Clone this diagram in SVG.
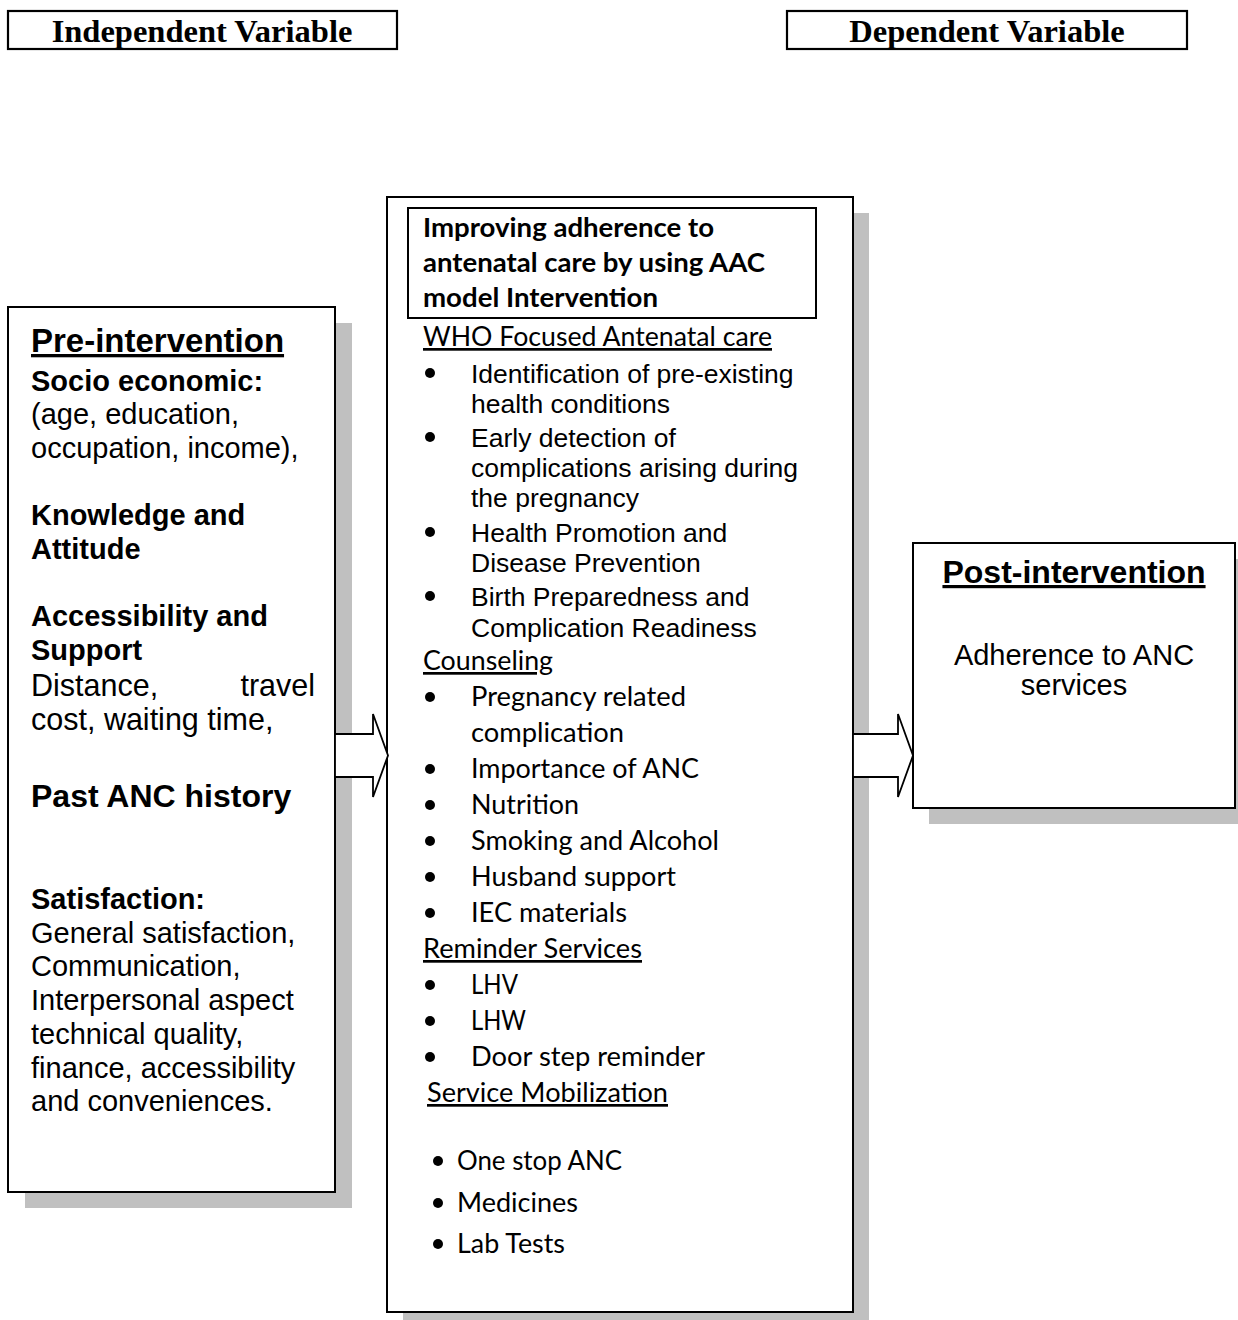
<svg xmlns="http://www.w3.org/2000/svg" width="1238" height="1320" viewBox="0 0 1238 1320">
<style>
.box{fill:#fff;stroke:#000;stroke-width:2}
.lbl{fill:#fff;stroke:#000;stroke-width:2.2}
.shadow{fill:#c0c0c0}
.arrow{fill:#fff;stroke:#000;stroke-width:1.8;stroke-linejoin:miter}
.tnr{font-family:"Liberation Serif","Times New Roman",serif;font-weight:bold;font-size:32.5px;text-anchor:middle;fill:#000}
.ar{font-family:"Liberation Sans",Arial,sans-serif;font-size:29px;fill:#000}
.arb{font-family:"Liberation Sans",Arial,sans-serif;font-size:29px;font-weight:bold;fill:#000}
.ars{font-family:"Liberation Sans",Arial,sans-serif;font-size:26.5px;fill:#000}
.cal{font-family:Lato,"Open Sans",sans-serif;font-size:27px;fill:#000}
.calb{font-family:Lato,"Open Sans",sans-serif;font-size:27px;font-weight:bold;fill:#000}
.u{text-decoration:underline}
.mid{text-anchor:middle}
</style>
<rect width="1238" height="1320" fill="#fff"/>

<g id="independent-label">
<rect class="lbl" x="8" y="11" width="389" height="38"/>
<text class="tnr" x="202" y="42">Independent Variable</text>
</g>

<g id="dependent-label">
<rect class="lbl" x="787" y="11" width="400" height="38"/>
<text class="tnr" x="987" y="42">Dependent Variable</text>
</g>

<g id="pre-intervention">
<rect class="shadow" x="25" y="323" width="327" height="885"/>
<rect class="box" x="8" y="307" width="327" height="885"/>
<text class="arb u" x="31" y="352" style="font-size:33px">Pre-intervention</text>
<text class="arb" x="31" y="391">Socio economic:</text>
<text class="ar" x="31" y="424">(age, education,</text>
<text class="ar" x="31" y="458">occupation, income),</text>
<text class="arb" x="31" y="525">Knowledge and</text>
<text class="arb" x="31" y="559">Attitude</text>
<text class="arb" x="31" y="626">Accessibility and</text>
<text class="arb" x="31" y="660">Support</text>
<text class="ar" x="31" y="696" style="font-size:30.5px">Distance,</text>
<text class="ar" x="315" y="696" style="font-size:30.5px;text-anchor:end">travel</text>
<text class="ar" x="31" y="730" style="font-size:30.5px">cost, waiting time,</text>
<text class="arb" x="31" y="807" style="font-size:32px">Past ANC history</text>
<text class="arb" x="31" y="909">Satisfaction:</text>
<text class="ar" x="31" y="943">General satisfaction,</text>
<text class="ar" x="31" y="976">Communication,</text>
<text class="ar" x="31" y="1010">Interpersonal aspect</text>
<text class="ar" x="31" y="1044">technical quality,</text>
<text class="ar" x="31" y="1078">finance, accessibility</text>
<text class="ar" x="31" y="1111">and conveniences.</text>
</g>

<g id="intervention">
<rect class="shadow" x="403" y="213" width="466" height="1115"/>
<rect class="box" x="387" y="197" width="466" height="1115"/>
<rect class="box" x="408" y="208" width="408" height="110"/>
<text class="calb" x="423" y="237" textLength="291" lengthAdjust="spacingAndGlyphs">Improving adherence to</text>
<text class="calb" x="423" y="272" textLength="342" lengthAdjust="spacingAndGlyphs">antenatal care by using AAC</text>
<text class="calb" x="423" y="307" textLength="235" lengthAdjust="spacingAndGlyphs">model Intervention</text>
<text class="cal u" x="423" y="346" textLength="349" lengthAdjust="spacingAndGlyphs">WHO Focused Antenatal care</text>

<g fill="#000">
<circle cx="430" cy="373" r="5"/>
<circle cx="430" cy="437" r="5"/>
<circle cx="430" cy="532" r="5"/>
<circle cx="430" cy="596" r="5"/>
<circle cx="430" cy="697" r="5"/>
<circle cx="430" cy="769" r="5"/>
<circle cx="430" cy="805" r="5"/>
<circle cx="430" cy="841" r="5"/>
<circle cx="430" cy="877" r="5"/>
<circle cx="430" cy="913" r="5"/>
<circle cx="430" cy="985" r="5"/>
<circle cx="430" cy="1021" r="5"/>
<circle cx="430" cy="1057" r="5"/>
<circle cx="438" cy="1161" r="5"/>
<circle cx="438" cy="1203" r="5"/>
<circle cx="438" cy="1244" r="5"/>
</g>

<text class="ars" x="471" y="383">Identification of pre-existing</text>
<text class="ars" x="471" y="413">health conditions</text>
<text class="ars" x="471" y="447">Early detection of</text>
<text class="ars" x="471" y="477">complications arising during</text>
<text class="ars" x="471" y="507">the pregnancy</text>
<text class="ars" x="471" y="542">Health Promotion and</text>
<text class="ars" x="471" y="572">Disease Prevention</text>
<text class="ars" x="471" y="606">Birth Preparedness and</text>
<text class="ars" x="471" y="637">Complication Readiness</text>

<text class="cal u" x="423" y="670" textLength="130" lengthAdjust="spacingAndGlyphs">Counseling</text>
<text class="cal" x="471" y="706" textLength="215" lengthAdjust="spacingAndGlyphs">Pregnancy related</text>
<text class="cal" x="471" y="742" textLength="153" lengthAdjust="spacingAndGlyphs">complication</text>
<text class="cal" x="471" y="778" textLength="228" lengthAdjust="spacingAndGlyphs">Importance of ANC</text>
<text class="cal" x="471" y="814" textLength="108" lengthAdjust="spacingAndGlyphs">Nutrition</text>
<text class="cal" x="471" y="850" textLength="248" lengthAdjust="spacingAndGlyphs">Smoking and Alcohol</text>
<text class="cal" x="471" y="886" textLength="205" lengthAdjust="spacingAndGlyphs">Husband support</text>
<text class="cal" x="471" y="922" textLength="156" lengthAdjust="spacingAndGlyphs">IEC materials</text>

<text class="cal u" x="423" y="958" textLength="219" lengthAdjust="spacingAndGlyphs">Reminder Services</text>
<text class="cal" x="471" y="994" textLength="47" lengthAdjust="spacingAndGlyphs">LHV</text>
<text class="cal" x="471" y="1030" textLength="55" lengthAdjust="spacingAndGlyphs">LHW</text>
<text class="cal" x="471" y="1066" textLength="234" lengthAdjust="spacingAndGlyphs">Door step reminder</text>

<text class="cal u" x="427" y="1102" textLength="241" lengthAdjust="spacingAndGlyphs">Service Mobilization</text>
<text class="cal" x="457" y="1170" textLength="165" lengthAdjust="spacingAndGlyphs">One stop ANC</text>
<text class="cal" x="457" y="1212" textLength="121" lengthAdjust="spacingAndGlyphs">Medicines</text>
<text class="cal" x="457" y="1253" textLength="108" lengthAdjust="spacingAndGlyphs">Lab Tests</text>
</g>

<g id="post-intervention">
<rect class="shadow" x="929" y="559" width="322" height="265"/>
<rect class="box" x="913" y="543" width="322" height="265"/>
<text class="arb u mid" x="1074" y="583" style="font-size:32px">Post-intervention</text>
<text class="ar mid" x="1074" y="665">Adherence to ANC</text>
<text class="ar mid" x="1074" y="695">services</text>
</g>

<g id="connectors">
<polygon class="arrow" points="335,734 373,734 373,714 388,755.5 373,797 373,777 335,777"/>
<polygon class="arrow" points="853,734 898,734 898,714 913,755.5 898,797 898,777 853,777"/>
</g>
</svg>
